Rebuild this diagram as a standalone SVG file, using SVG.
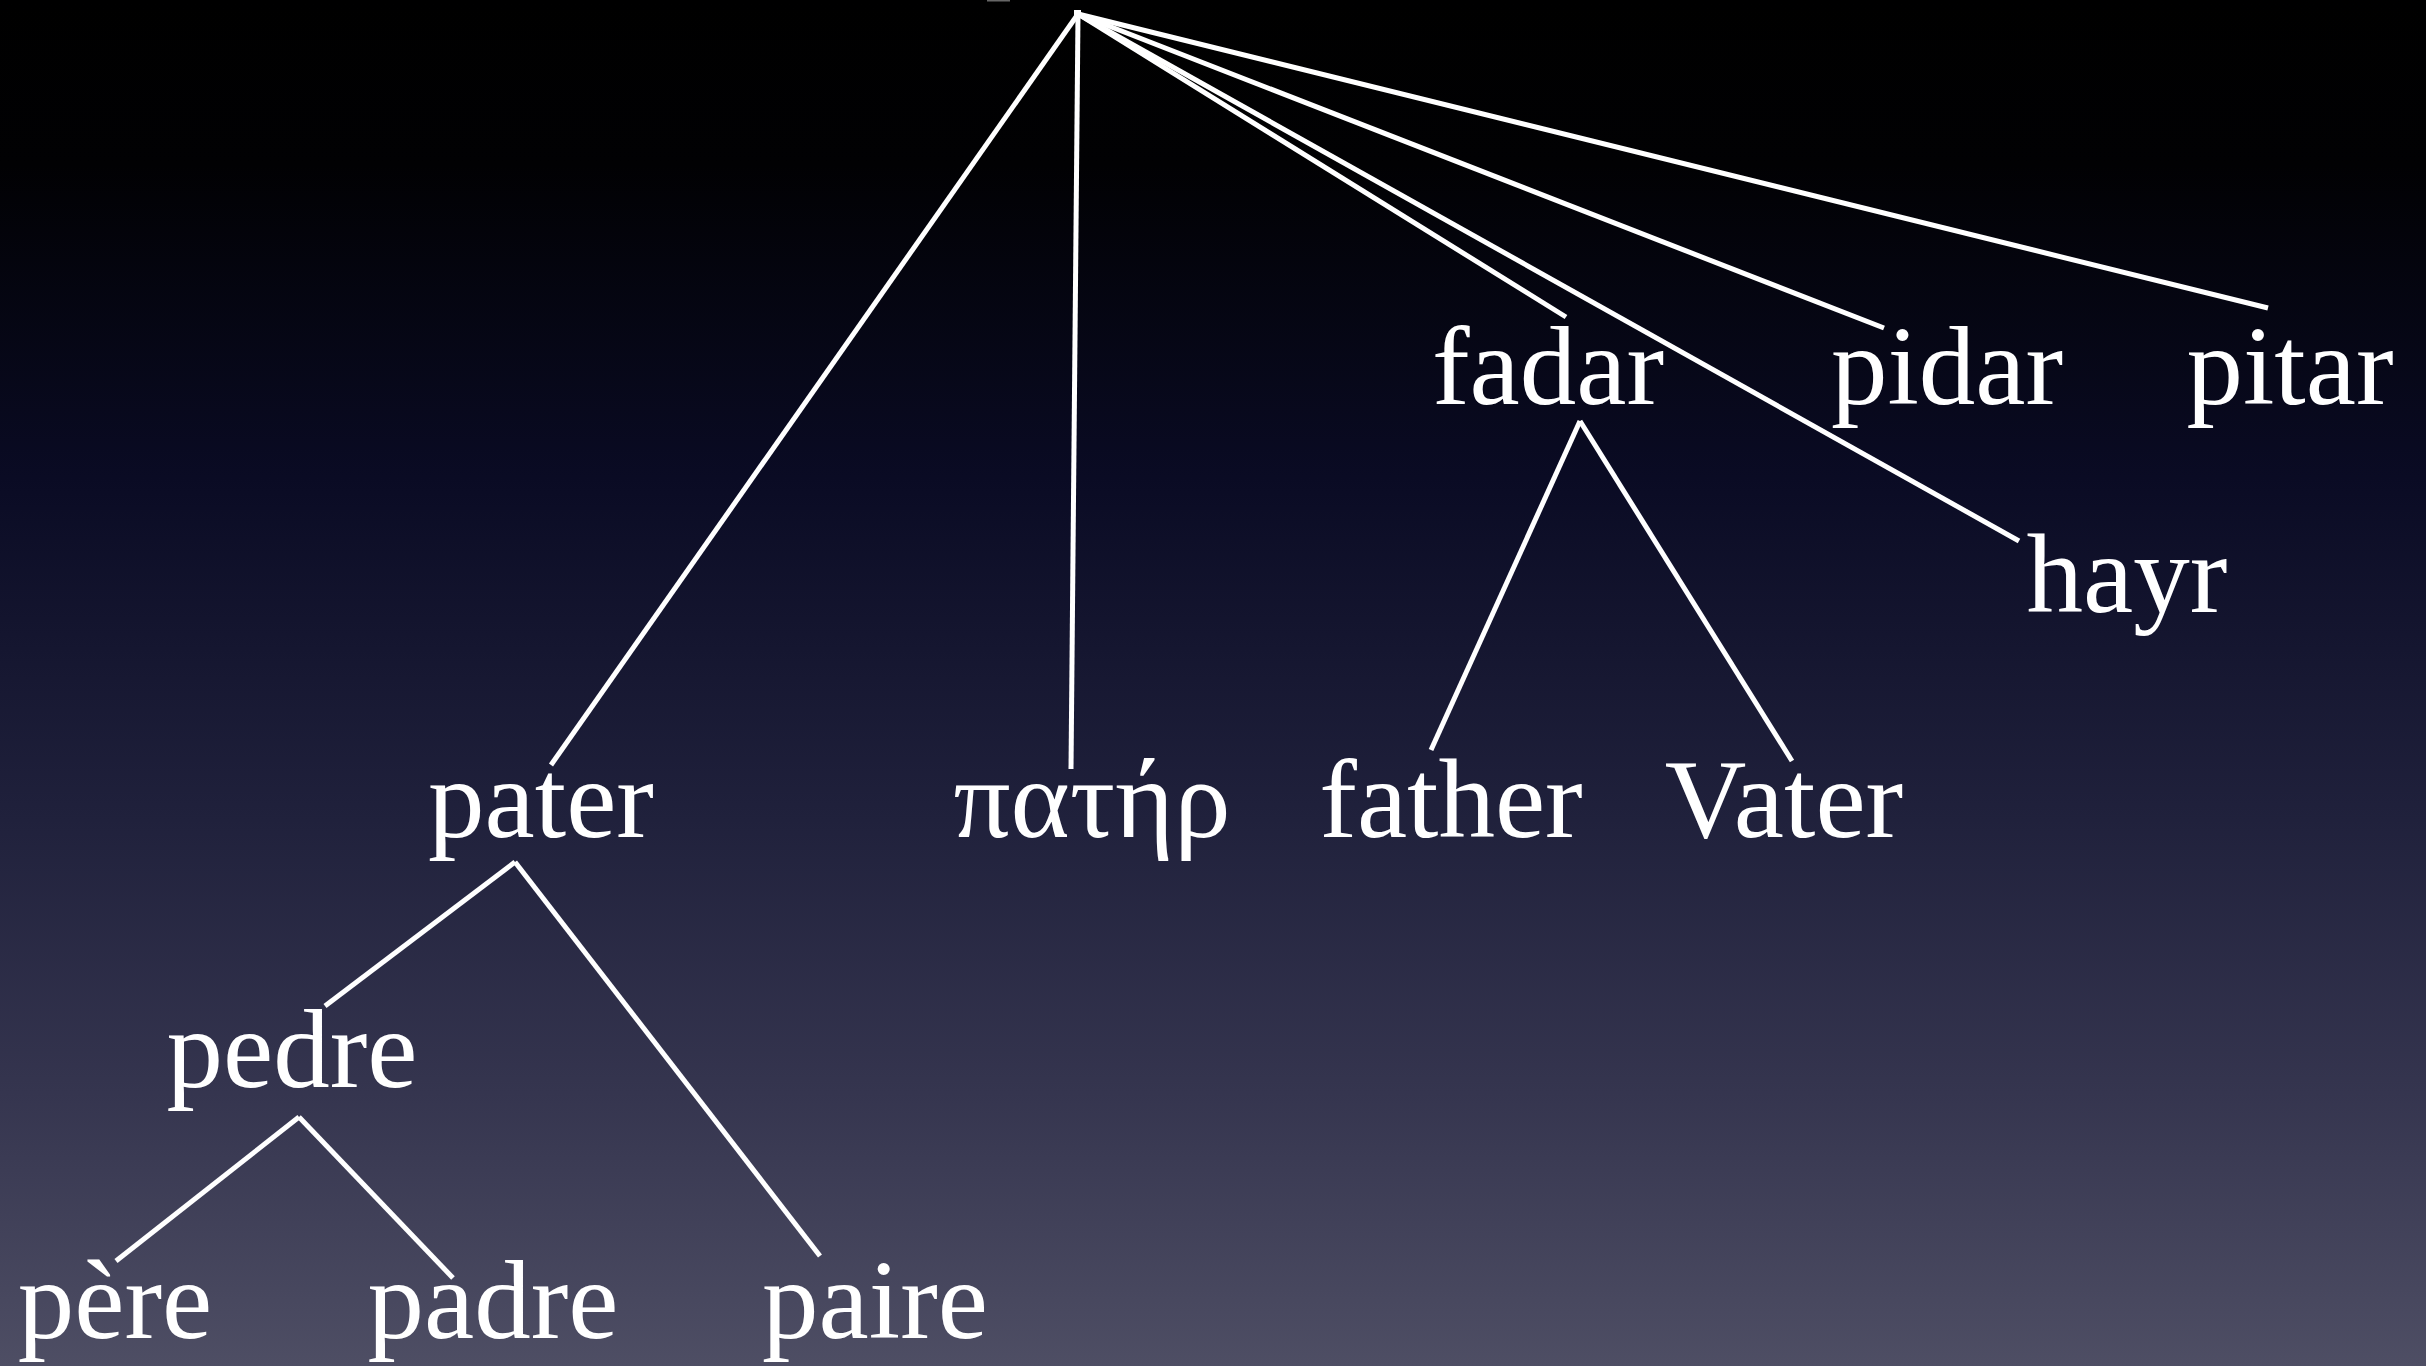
<svg xmlns="http://www.w3.org/2000/svg" width="2426" height="1366" viewBox="0 0 2426 1366">
<style>
.lbl{font-family:"Liberation Serif","DejaVu Serif",serif;font-size:113px;fill:#ffffff;text-anchor:middle}
.edge{stroke:#ffffff;stroke-width:5;stroke-linecap:butt;fill:none}
</style>
<defs>
<linearGradient id="bg" x1="0" y1="0" x2="0" y2="1">
<stop offset="0" stop-color="#000000"/>
<stop offset="0.12" stop-color="#010103"/>
<stop offset="0.35" stop-color="#0a0b24"/>
<stop offset="0.6" stop-color="#20213c"/>
<stop offset="0.8" stop-color="#35354f"/>
<stop offset="1" stop-color="#4e4e64"/>
</linearGradient>
</defs>
<rect x="0" y="0" width="2426" height="1366" fill="url(#bg)"/>
<rect x="987" y="0" width="23" height="1.5" fill="#666666"/>
<g id="connectors">
<line class="edge" x1="1078" y1="14" x2="551" y2="765"/>
<line class="edge" x1="1078" y1="14" x2="1071" y2="769"/>
<line class="edge" x1="1078" y1="14" x2="1566" y2="317"/>
<line class="edge" x1="1078" y1="14" x2="2019" y2="541"/>
<line class="edge" x1="1078" y1="14" x2="1884" y2="328"/>
<line class="edge" x1="1078" y1="14" x2="2268" y2="308"/>
<line class="edge" x1="515" y1="862" x2="325" y2="1006"/>
<line class="edge" x1="515" y1="862" x2="820" y2="1256"/>
<line class="edge" x1="299" y1="1117" x2="116" y2="1261"/>
<line class="edge" x1="299" y1="1117" x2="453" y2="1278"/>
<line class="edge" x1="1580" y1="421" x2="1431" y2="750"/>
<line class="edge" x1="1580" y1="421" x2="1792" y2="761"/>
<rect x="1074" y="10" width="7" height="7" fill="#ffffff"/>
</g>
<g id="node-pater"><text class="lbl" x="541" y="837">pater</text></g>
<g id="node-pater-greek"><text class="lbl" x="1092" y="837">πατήρ</text></g>
<g id="node-father"><text class="lbl" x="1451" y="837">father</text></g>
<g id="node-Vater"><text class="lbl" x="1784" y="837">Vater</text></g>
<g id="node-fadar"><text class="lbl" x="1548" y="404">fadar</text></g>
<g id="node-pidar"><text class="lbl" x="1947" y="404">pidar</text></g>
<g id="node-pitar"><text class="lbl" x="2290" y="404">pitar</text></g>
<g id="node-hayr"><text class="lbl" x="2127" y="612">hayr</text></g>
<g id="node-pedre"><text class="lbl" x="292" y="1087">pedre</text></g>
<g id="node-pere"><text class="lbl" x="115" y="1338">père</text></g>
<g id="node-padre"><text class="lbl" x="493" y="1338">padre</text></g>
<g id="node-paire"><text class="lbl" x="875" y="1338">paire</text></g>
</svg>
